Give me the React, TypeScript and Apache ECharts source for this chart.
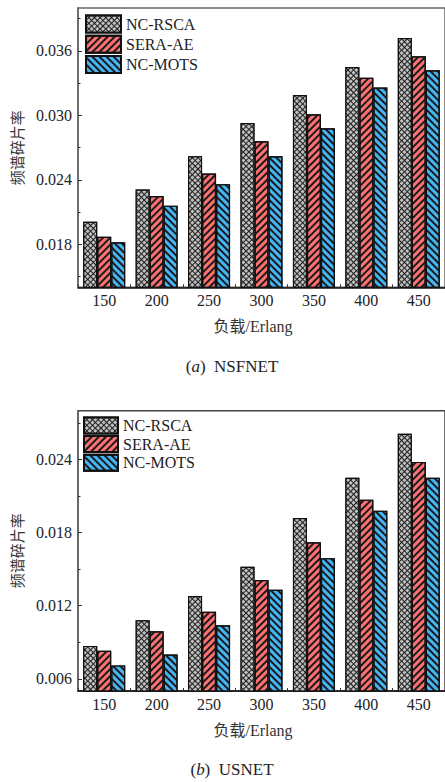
import React, { useEffect, useRef } from "react";
import * as echarts from "echarts";

const categories = ["150", "200", "250", "300", "350", "400", "450"];
const seriesNames = ["NC-RSCA", "SERA-AE", "NC-MOTS"];

const nsfRsca = [0.0201, 0.0231, 0.0262, 0.0293, 0.0319, 0.0345, 0.0372];
const nsfSera = [0.0187, 0.0225, 0.0246, 0.0276, 0.0301, 0.0335, 0.0355];
const nsfMots = [0.0182, 0.0216, 0.0236, 0.0262, 0.0288, 0.0326, 0.0342];

const usRsca = [0.0087, 0.0108, 0.0128, 0.0152, 0.0192, 0.0225, 0.0261];
const usSera = [0.0083, 0.0099, 0.0115, 0.0141, 0.0172, 0.0207, 0.0238];
const usMots = [0.0071, 0.008, 0.0104, 0.0133, 0.0159, 0.0198, 0.0225];

const nsfMajorTicks = [0.018, 0.024, 0.03, 0.036];
const nsfMinorTicks = [0.015, 0.021, 0.027, 0.033, 0.039];
const usMajorTicks = [0.006, 0.012, 0.018, 0.024];
const usMinorTicks = [0.009, 0.015, 0.021, 0.027];

const FONT = "'Liberation Serif', 'Times New Roman', 'Noto Sans CJK SC', serif";

const fills = ["#1e1e1e", "#ff7070", "#45b5f5"];
const decals: any[] = [
  {
    symbol: "rect",
    symbolSize: 1,
    color: "#c0c0c0",
    dashArrayX: [3, 1],
    dashArrayY: [3, 1],
    rotation: Math.PI / 4,
  },
  {
    symbol: "rect",
    symbolSize: 1,
    color: "#1a1a1a",
    dashArrayX: [1, 0],
    dashArrayY: [1.1, 2.1],
    rotation: -Math.PI / 4,
  },
  {
    symbol: "rect",
    symbolSize: 1,
    color: "#1a1a1a",
    dashArrayX: [1, 0],
    dashArrayY: [1.1, 2.1],
    rotation: Math.PI / 4,
  },
];

function makeAxes(gridIndex: number, min: number, max: number, major: number[], minor: number[]) {
  const common = {
    type: "value",
    gridIndex,
    min,
    max,
    position: "left",
    splitLine: { show: false },
  };
  return [
    {
      ...common,
      name: "频谱碎片率",
      nameLocation: "middle",
      nameGap: 43,
      nameTextStyle: { fontFamily: FONT, fontSize: 15, color: "#333" },
      axisLine: { show: true, lineStyle: { color: "#666", width: 1.5 } },
      axisTick: { show: true, inside: true, length: 4, customValues: major, lineStyle: { color: "#333", width: 1 } },
      axisLabel: {
        customValues: major,
        formatter: (v: number) => v.toFixed(3),
        fontFamily: FONT,
        fontSize: 16,
        color: "#222",
        margin: 6,
      },
    },
    {
      ...common,
      offset: 0,
      axisLine: { show: false },
      axisTick: { show: true, inside: true, length: 2.5, customValues: minor, lineStyle: { color: "#333", width: 1 } },
      axisLabel: { show: false },
    },
  ];
}

function makeXAxis(gridIndex: number) {
  return {
    type: "category",
    gridIndex,
    data: categories,
    name: "负载/Erlang",
    nameLocation: "middle",
    nameGap: 31,
    nameTextStyle: { fontFamily: FONT, fontSize: 16, color: "#333", padding: [0, 17, 0, 0] },
    axisLine: { show: true, lineStyle: { color: "#111", width: 1.5 } },
    axisTick: { show: true, inside: true, length: 3, lineStyle: { color: "#333" } },
    axisLabel: { fontFamily: FONT, fontSize: 16, color: "#222", margin: 5 },
    splitLine: { show: false },
  };
}

function makeSeries(xAxisIndex: number, yAxisIndex: number, dataSets: number[][]) {
  return dataSets.map((d, i) => ({
    type: "bar",
    name: seriesNames[i],
    xAxisIndex,
    yAxisIndex,
    data: d,
    barWidth: 14,
    barGap: "0%",
    itemStyle: {
      color: fills[i],
      borderColor: "#111",
      borderWidth: 1.2,
      decal: decals[i],
    },
  }));
}

export default function App() {
  const ref = useRef<HTMLDivElement>(null);
  useEffect(() => {
    if (!ref.current) return;
    const chart = echarts.init(ref.current, undefined, { renderer: "svg" });
    const legendCommon = {
      orient: "vertical",
      icon: "rect",
      padding: 0,
      data: seriesNames,
      selectedMode: false,
      textStyle: { fontFamily: FONT, fontSize: 16, color: "#222" },
    };
    const option: any = {
      animation: false,
      backgroundColor: "#fff",
      grid: [
        { left: 78, right: -4, top: 8, bottom: 494.7, show: true, borderColor: "#666", borderWidth: 1.5, backgroundColor: "transparent" },
        { left: 78, right: -4, top: 410.7, bottom: 91, show: true, borderColor: "#444", borderWidth: 1.5, backgroundColor: "transparent" },
      ],
      legend: [
        { ...legendCommon, left: 85, top: 14.5, itemWidth: 35, itemHeight: 17, itemGap: 1.2 },
        { ...legendCommon, left: 83, top: 416.5, itemWidth: 34, itemHeight: 16, itemGap: 0.6 },
      ],
      xAxis: [makeXAxis(0), makeXAxis(1)],
      yAxis: [
        ...makeAxes(0, 0.014, 0.04, nsfMajorTicks, nsfMinorTicks),
        ...makeAxes(1, 0.005, 0.028, usMajorTicks, usMinorTicks),
      ],
      series: [
        ...makeSeries(0, 0, [nsfRsca, nsfSera, nsfMots]),
        ...makeSeries(1, 2, [usRsca, usSera, usMots]),
      ],
      graphic: [
        {
          type: "text",
          x: 232,
          y: 366,
          style: {
            text: "({i|a})  NSFNET",
            align: "center",
            verticalAlign: "middle",
            fontFamily: FONT,
            fontSize: 17,
            fill: "#222",
            rich: { i: { fontStyle: "italic", fontFamily: FONT, fontSize: 17, fill: "#222" } },
          },
        },
        {
          type: "text",
          x: 232,
          y: 769,
          style: {
            text: "({i|b})  USNET",
            align: "center",
            verticalAlign: "middle",
            fontFamily: FONT,
            fontSize: 17,
            fill: "#222",
            rich: { i: { fontStyle: "italic", fontFamily: FONT, fontSize: 17, fill: "#222" } },
          },
        },
      ],
    };
    chart.setOption(option);
    return () => chart.dispose();
  }, []);
  return (
    <div style={{ position: "absolute", left: 0, top: 0, width: 445, height: 782, overflow: "hidden", background: "#fff" }}>
      <div ref={ref} style={{ width: 445, height: 782 }} />
    </div>
  );
}
